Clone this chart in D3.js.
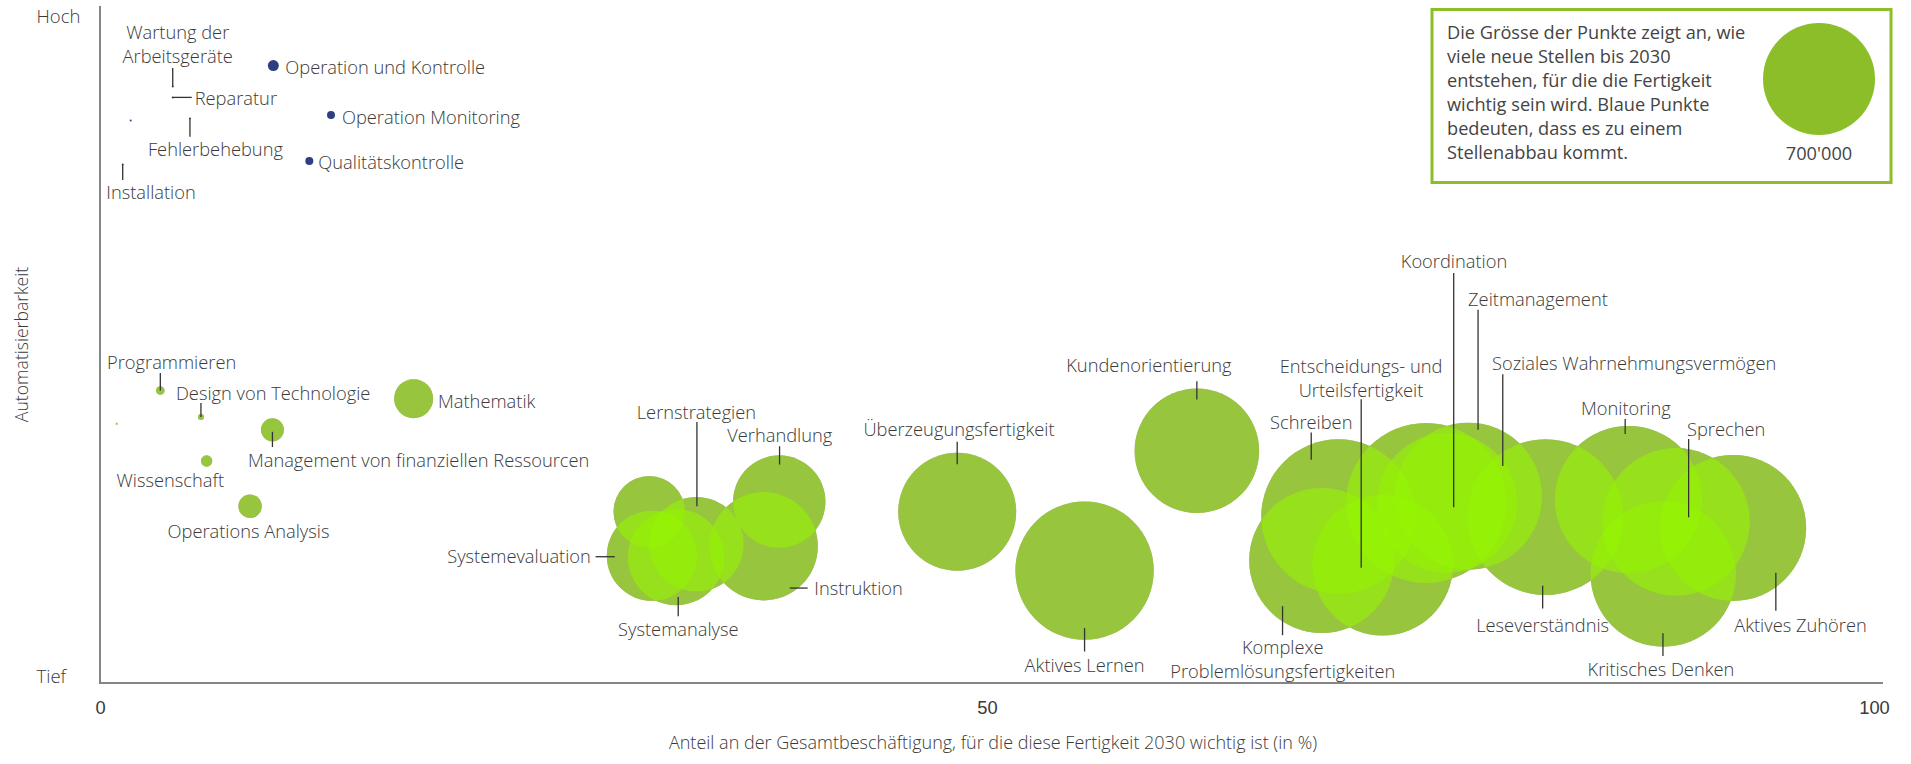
<!DOCTYPE html>
<html>
<head>
<meta charset="utf-8">
<script src="https://cdn.jsdelivr.net/npm/d3@7"></script>
<style>
  body { margin: 0; background: #fff; }
  svg { display: block; font-family: "Open Sans", sans-serif; font-weight: 300; }
  text { fill: #3a3a3a; font-size: 18.3px; }
</style>
</head>
<body>
<svg id="chart" width="1911" height="764"></svg>
<script>
// skills, share of employment 2030 (%), automation potential (0 = tief, 100 = hoch), new jobs (negative = loss)
const skills = [
  "Operation und Kontrolle", "Operation Monitoring", "Qualitätskontrolle", "Wartung der Arbeitsgeräte",
  "Reparatur", "Fehlerbehebung", "Installation", "Geräteauswahl",
  "Programmieren", "Design von Technologie", "Management von materiellen Ressourcen",
  "Management von finanziellen Ressourcen", "Mathematik", "Wissenschaft", "Operations Analysis",
  "Management von Personalressourcen", "Systemevaluation", "Lernstrategien", "Systemanalyse",
  "Verhandlung", "Instruktion", "Überzeugungsfertigkeit", "Aktives Lernen", "Kundenorientierung",
  "Schreiben", "Komplexe Problemlösungsfertigkeiten", "Entscheidungs- und Urteilsfertigkeit",
  "Koordination", "Zeitmanagement", "Soziales Wahrnehmungsvermögen", "Leseverständnis",
  "Monitoring", "Sprechen", "Aktives Zuhören", "Kritisches Denken"
];
const share = [
  9.77, 13.02, 11.8, 4.1,
  4.1, 5.07, 1.28, 1.73,
  3.4, 5.69, 0.94,
  9.72, 17.68, 6.01, 8.46,
  30.96, 31.11, 33.62, 32.47,
  38.29, 37.41, 48.32, 55.5, 61.83,
  69.81, 68.87, 72.3,
  75.93, 77.14, 74.75, 81.48,
  86.16, 88.84, 92.06, 88.12
];
const automation = [
  91.2, 83.9, 77.1, 88.1,
  86.5, 83.4, 76.6, 83.1,
  43.2, 39.3, 38.3,
  37.4, 42.0, 32.8, 26.1,
  25.3, 18.8, 20.5, 18.6,
  26.8, 20.2, 25.3, 16.6, 34.3,
  24.6, 18.1, 17.4,
  26.6, 27.6, 26.6, 24.5,
  27.1, 23.8, 22.9, 16.1
];
const jobs = [
  -6750, -3570, -3570, -220,
  -220, -220, -220, -220,
  4130, 2010, 220,
  29500, 84900, 7250, 30600,
  284500, 454000, 499400, 518600,
  476400, 655700, 777000, 1069000, 866000,
  1330000, 1176000, 1103000,
  1094000, 1206000, 1429000, 1355000,
  1209000, 1216000, 1190000, 1180000
];
const legendValue = 700000;
const legendText = [
  "Die Grösse der Punkte zeigt an, wie",
  "viele neue Stellen bis 2030",
  "entstehen, für die die Fertigkeit",
  "wichtig sein wird. Blaue Punkte",
  "bedeuten, dass es zu einem",
  "Stellenabbau kommt."
];
const xTicks = [0, 50, 100];

// label placement: offsets from the bubble centre (px), leader [x1, y1, x2, y2]
const labelLayout = {
  "Operation und Kontrolle": {anchor: "start", dx: 12, dy: 2},
  "Operation Monitoring": {anchor: "start", dx: 11, dy: 3},
  "Qualitätskontrolle": {anchor: "start", dx: 9, dy: 2},
  "Wartung der Arbeitsgeräte": {lines: ["Wartung der", "Arbeitsgeräte"], anchor: "middle", dx: 5, dy: -54, leader: [0, -18.5, 0, 0]},
  "Reparatur": {anchor: "start", dx: 22, dy: 1.5, leader: [0, 0, 19, 0]},
  "Fehlerbehebung": {anchor: "middle", dx: 25.5, dy: 31.7, leader: [0, 0, 0, 18.4]},
  "Installation": {anchor: "middle", dx: 28.3, dy: 28.4, leader: [0, 0, 0, 15.7]},
  "Programmieren": {anchor: "middle", dx: 11.3, dy: -27.6, leader: [0, -17.6, 0, 0]},
  "Design von Technologie": {anchor: "start", dx: -25, dy: -23.4, leader: [0, -14, 0, 0]},
  "Management von finanziellen Ressourcen": {anchor: "start", dx: -24.5, dy: 30.5, leader: [0, 2, 0, 17.2]},
  "Mathematik": {anchor: "start", dx: 24.4, dy: 3.2},
  "Wissenschaft": {anchor: "middle", dx: -36.3, dy: 19.7},
  "Operations Analysis": {anchor: "middle", dx: -1.6, dy: 25.7},
  "Systemevaluation": {anchor: "end", dx: -61, dy: 1.3, leader: [-56.3, 1, -37.1, 1]},
  "Systemanalyse": {anchor: "middle", dx: 2.3, dy: 72.5, leader: [2.2, 39.9, 2.2, 59.2]},
  "Lernstrategien": {anchor: "middle", dx: 0, dy: -131.7, leader: [0.5, -122.3, 0.5, -38]},
  "Verhandlung": {anchor: "middle", dx: 0.5, dy: -66.3, leader: [0.3, -55.3, 0.3, -37]},
  "Instruktion": {anchor: "start", dx: 50.7, dy: 42.5, leader: [26.1, 41.8, 44, 41.8]},
  "Überzeugungsfertigkeit": {anchor: "middle", dx: 1.8, dy: -82.4, leader: [0, -70, 0, -47.4]},
  "Aktives Lernen": {anchor: "middle", dx: 0, dy: 94.9, leader: [0, 57.5, 0, 80.9]},
  "Kundenorientierung": {anchor: "middle", dx: -48, dy: -85, leader: [0, -69.5, 0, -51.2]},
  "Schreiben": {anchor: "middle", dx: -27.2, dy: -93.7, leader: [-27.2, -84, -27.2, -56.7]},
  "Komplexe Problemlösungsfertigkeiten": {lines: ["Komplexe", "Problemlösungsfertigkeiten"], anchor: "middle", dx: -39, dy: 87, leader: [-39.2, 45.7, -39.2, 74.7]},
  "Entscheidungs- und Urteilsfertigkeit": {lines: ["Entscheidungs- und", "Urteilsfertigkeit"], anchor: "middle", dx: -21.6, dy: -198.5, leader: [-21.4, -165.9, -21.4, 2.5]},
  "Koordination": {anchor: "middle", dx: 7, dy: -241, leader: [6.7, -230, 6.7, 4.3]},
  "Zeitmanagement": {anchor: "start", dx: -0.4, dy: -197, leader: [9.6, -186.3, 9.6, -66.3]},
  "Soziales Wahrnehmungsvermögen": {anchor: "start", dx: 65.9, dy: -139, leader: [76.7, -128.7, 76.7, -37]},
  "Leseverständnis": {anchor: "middle", dx: -2.8, dy: 108, leader: [-2.8, 68.7, -2.8, 91.3]},
  "Monitoring": {anchor: "middle", dx: -2.6, dy: -90.5, leader: [-3.3, -80.5, -3.3, -65.5]},
  "Sprechen": {anchor: "start", dx: 11, dy: -92.2, leader: [12.6, -82.9, 12.6, -4.5]},
  "Aktives Zuhören": {anchor: "middle", dx: 67.3, dy: 97.2, leader: [42.7, 44.9, 42.7, 82.9]},
  "Kritisches Denken": {anchor: "middle", dx: -2.3, dy: 96, leader: [-0.3, 59.3, -0.3, 82]}
};

const data = skills.map((s, i) => ({name: s, x: share[i], y: automation[i], v: jobs[i]}));

const svg = d3.select("#chart");
const x = d3.scaleLinear().domain([0, 100]).range([100, 1874]);
const y = d3.scaleLinear().domain([0, 100]).range([683, 6]);
const r = d3.scaleSqrt().domain([0, legendValue]).range([0, 56]);

const green = "#8bbe28", blue = "#2d3f80", axisGrey = "#858585";

// axes
svg.append("line")
  .attr("x1", x(0)).attr("x2", x(0))
  .attr("y1", y(0)).attr("y2", y(100))
  .attr("stroke", axisGrey).attr("stroke-width", 2);
svg.append("line")
  .attr("x1", x(0) - 1).attr("x2", x(100) + 9)
  .attr("y1", y(0)).attr("y2", y(0))
  .attr("stroke", axisGrey).attr("stroke-width", 2);

const xAxis = svg.append("g")
  .attr("transform", "translate(0," + y(0) + ")")
  .call(d3.axisBottom(x).tickValues(xTicks).tickSize(0).tickPadding(18));
xAxis.select(".domain").remove();
xAxis.selectAll("text").attr("font-size", 18).attr("font-family", null).attr("fill", "#3a3a3a");

svg.append("text").attr("x", 36.5).attr("y", y(100) + 16.5).style("font-size", "18.5px").text("Hoch");
svg.append("text").attr("x", 36.5).attr("y", y(0)).style("font-size", "18.5px").text("Tief");
svg.append("text")
  .attr("transform", "translate(28," + (y(0) + y(100)) / 2 + ") rotate(-90)")
  .attr("text-anchor", "middle")
  .style("font-size", "17.6px")
  .text("Automatisierbarkeit");
svg.append("text")
  .attr("x", (x(0) + x(100)) / 2 + 6).attr("y", 749)
  .attr("text-anchor", "middle")
  .style("font-size", "18px")
  .text("Anteil an der Gesamtbeschäftigung, für die diese Fertigkeit 2030 wichtig ist (in %)");

// bubbles: an opaque base and a lime veil so that overlaps brighten
const gains = data.filter(d => d.v > 0).sort((a, b) => a.v - b.v);
const losses = data.filter(d => d.v < 0);

svg.append("g").selectAll("circle")
  .data(gains).join("circle")
    .attr("cx", d => x(d.x)).attr("cy", d => y(d.y))
    .attr("r", d => r(d.v))
    .attr("fill", "#9a8a8a");
svg.append("g").selectAll("circle")
  .data(gains).join("circle")
    .attr("cx", d => x(d.x)).attr("cy", d => y(d.y))
    .attr("r", d => r(d.v))
    .attr("fill", "#96f500").attr("fill-opacity", 0.55);
svg.append("g").selectAll("circle")
  .data(losses).join("circle")
    .attr("cx", d => x(d.x)).attr("cy", d => y(d.y))
    .attr("r", d => r(-d.v))
    .attr("fill", blue);

// labels and leader lines
const labelled = data.filter(d => labelLayout[d.name]);
svg.append("g").selectAll("line")
  .data(labelled.filter(d => labelLayout[d.name].leader)).join("line")
    .attr("x1", d => x(d.x) + labelLayout[d.name].leader[0])
    .attr("y1", d => y(d.y) + labelLayout[d.name].leader[1])
    .attr("x2", d => x(d.x) + labelLayout[d.name].leader[2])
    .attr("y2", d => y(d.y) + labelLayout[d.name].leader[3])
    .attr("stroke", "#333").attr("stroke-width", 1.3);

const labels = svg.append("g").selectAll("text")
  .data(labelled).join("text")
    .attr("text-anchor", d => labelLayout[d.name].anchor)
    .attr("x", d => x(d.x) + labelLayout[d.name].dx)
    .attr("y", d => y(d.y) + labelLayout[d.name].dy);
labels.selectAll("tspan")
  .data(d => (labelLayout[d.name].lines || [d.name]).map((t, i) => ({t, i, px: x(d.x) + labelLayout[d.name].dx})))
  .join("tspan")
    .attr("x", t => t.px)
    .attr("dy", t => t.i === 0 ? "0.35em" : 24)
    .text(t => t.t);

// legend
const lg = svg.append("g");
lg.append("rect")
  .attr("x", 1432).attr("y", 9.5).attr("width", 459).attr("height", 173)
  .attr("fill", "#fff").attr("stroke", green).attr("stroke-width", 3);
lg.append("text")
  .style("font-size", "18.2px").style("font-weight", 400).style("fill", "#444")
  .selectAll("tspan").data(legendText).join("tspan")
    .attr("x", 1447).attr("y", (d, i) => 33 + i * 24).attr("dy", "0.35em")
    .text(d => d);
lg.append("circle")
  .attr("cx", 1819).attr("cy", 79).attr("r", r(legendValue))
  .attr("fill", green);
lg.append("text")
  .attr("x", 1819).attr("y", 154).attr("dy", "0.35em")
  .attr("text-anchor", "middle")
  .style("font-size", "18.2px").style("font-weight", 400).style("fill", "#444")
  .text(d3.format(",")(legendValue).replace(/,/g, "'"));
</script>
</body>
</html>
